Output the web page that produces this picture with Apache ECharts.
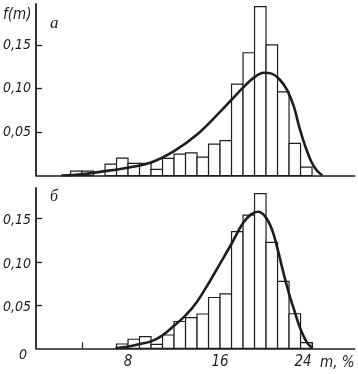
<!DOCTYPE html>
<html>
<head>
<meta charset="utf-8">
<script src="https://cdn.jsdelivr.net/npm/echarts@6/dist/echarts.min.js"></script>
<style>
html,body{margin:0;padding:0;background:#fff;}
#c{width:358px;height:374px;}
</style>
</head>
<body>
<div id="c"></div>
<script>
// ---- data ----
const binWidth = 1;
const topBinStart = [3,4,5,6,7,8,9,10,11,12,13,14,15,16,17,18,19,20,21,22,23];
const topFreq = [0.005,0.005,0,0.013,0.020,0.014,0.014,0.007,0.0196,0.0246,0.026,0.021,0.036,0.040,0.105,0.141,0.194,0.150,0.096,0.037,0.0096];
const botBinStart = [7,8,9,10,11,12,13,14,15,16,17,18,19,20,21,22,23];
const botFreq = [0.005,0.0105,0.0136,0.0046,0.0154,0.031,0.0356,0.0397,0.0588,0.063,0.135,0.154,0.179,0.1225,0.0775,0.040,0.0066];
const topCurveM = [2.2,4,6,8,10,12,14,16,17,18,19,19.8,20.5,21.2,21.8,22.4,22.9,23.4,23.9,24.4,24.9];
const topCurveF = [0,0.0015,0.005,0.009,0.015,0.028,0.047,0.073,0.087,0.101,0.113,0.118,0.117,0.110,0.099,0.080,0.055,0.034,0.017,0.006,0];
const botCurveM = [6.9,8,9,10,11,12,13,14,15,16,17,18,18.7,19.3,19.9,20.5,21.0,21.5,22.0,22.5,23.0,23.5,24.0];
const botCurveF = [0,0.002,0.005,0.008,0.015,0.026,0.038,0.054,0.075,0.098,0.121,0.145,0.155,0.158,0.153,0.138,0.115,0.088,0.063,0.042,0.022,0.008,0];
const yTicks = [0.05,0.10,0.15];
const xTicks = [4,8,12,16,20,24];
const xLabels = [8,16,24];
const xName = 'm, %';
const yName = 'f(m)';
const panelTags = ['а','б'];

// ---- chart ----
const FONT = "'Liberation Sans Narrow','DejaVu Sans Condensed',sans-serif";
const INK = '#1e1e1e';
const chart = echarts.init(document.getElementById('c'), null, {renderer:'canvas'});

function histData(starts, freqs){
  const out = [];
  starts.forEach((s,i)=>{ if (freqs[i] > 0) out.push([s, freqs[i]]); });
  return out;
}
function renderBar(params, api){
  const x0 = api.value(0), h = api.value(1);
  const p0 = api.coord([x0, 0]);
  const p1 = api.coord([x0 + binWidth, h]);
  return {type:'rect', shape:{x:p0[0], y:p1[1], width:p1[0]-p0[0], height:p0[1]-p1[1]},
    style:{fill:'#fff', stroke:INK, lineWidth:1.2}};
}
const fmtY = v => v.toFixed(2).replace('.', ',');
const lastX = xLabels[xLabels.length - 1];

const xCommon = {type:'value', min:0, max:27.7, splitLine:{show:false},
  axisLine:{lineStyle:{color:INK, width:1.5}}};
const yCommon = {type:'value', min:0, splitLine:{show:false},
  axisLine:{show:true, lineStyle:{color:INK, width:1.8}},
  axisTick:{show:true, inside:true, length:6, customValues:yTicks, lineStyle:{color:INK, width:1.3}}};
const yLabelBase = {show:true, margin:5, color:INK, fontFamily:FONT, fontStyle:'italic', fontSize:14, padding:[4,0,0,0]};

const option = {
  animation:false,
  backgroundColor:'#fff',
  grid:[
    {left:36, top:4, width:318.6, height:171.5},
    {left:36, top:188, width:318.6, height:160.3}
  ],
  xAxis:[
    Object.assign({}, xCommon, {gridIndex:0, axisTick:{show:false}, axisLabel:{show:false}}),
    Object.assign({}, xCommon, {gridIndex:1,
      axisTick:{show:true, inside:true, length:6, customValues:xTicks, lineStyle:{color:INK, width:1.2}},
      axisLabel:{show:true, customValues:xLabels, margin:6, color:INK,
        fontFamily:FONT, fontStyle:'italic', fontSize:15,
        formatter: v => v === lastX ? '{r|' + v + '}' : String(v),
        rich:{r:{padding:[0,18,0,0], fontFamily:FONT, fontStyle:'italic', fontSize:15, color:INK}}},
      name:xName, nameLocation:'end', nameGap:0,
      nameTextStyle:{align:'right', verticalAlign:'top', padding:[7,0,0,0], color:INK,
        fontFamily:FONT, fontStyle:'italic', fontSize:15}})
  ],
  yAxis:[
    Object.assign({}, yCommon, {gridIndex:0, max:0.197,
      axisLabel:Object.assign({}, yLabelBase, {customValues:yTicks, formatter:fmtY})}),
    Object.assign({}, yCommon, {gridIndex:1, max:0.1855,
      axisLabel:Object.assign({}, yLabelBase, {customValues:[0].concat(yTicks),
        formatter: v => v === 0 ? '{z|0}' : fmtY(v),
        rich:{z:{padding:[10,4,0,0], fontFamily:FONT, fontStyle:'italic', fontSize:14, color:INK}}})})
  ],
  graphic:[
    {type:'text', left:3, top:8, style:{text:yName, fill:INK, font:"italic 15px 'Liberation Sans Narrow','DejaVu Sans Condensed',sans-serif"}},
    {type:'text', left:50, top:15, style:{text:panelTags[0], fill:INK, font:"italic 17px 'Liberation Serif',serif"}},
    {type:'text', left:50, top:189, style:{text:panelTags[1], fill:INK, font:"italic 16px 'Liberation Serif',serif"}}
  ],
  series:[
    {type:'custom', xAxisIndex:0, yAxisIndex:0, renderItem:renderBar, data:histData(topBinStart, topFreq), z:2},
    {type:'custom', xAxisIndex:1, yAxisIndex:1, renderItem:renderBar, data:histData(botBinStart, botFreq), z:2},
    {type:'line', xAxisIndex:0, yAxisIndex:0, data:topCurveM.map((m,i)=>[m, topCurveF[i]]),
      smooth:0.35, showSymbol:false, lineStyle:{color:INK, width:2.6}, z:3},
    {type:'line', xAxisIndex:1, yAxisIndex:1, data:botCurveM.map((m,i)=>[m, botCurveF[i]]),
      smooth:0.35, showSymbol:false, lineStyle:{color:INK, width:2.6}, z:3}
  ]
};
chart.setOption(option);
</script>
</body>
</html>
